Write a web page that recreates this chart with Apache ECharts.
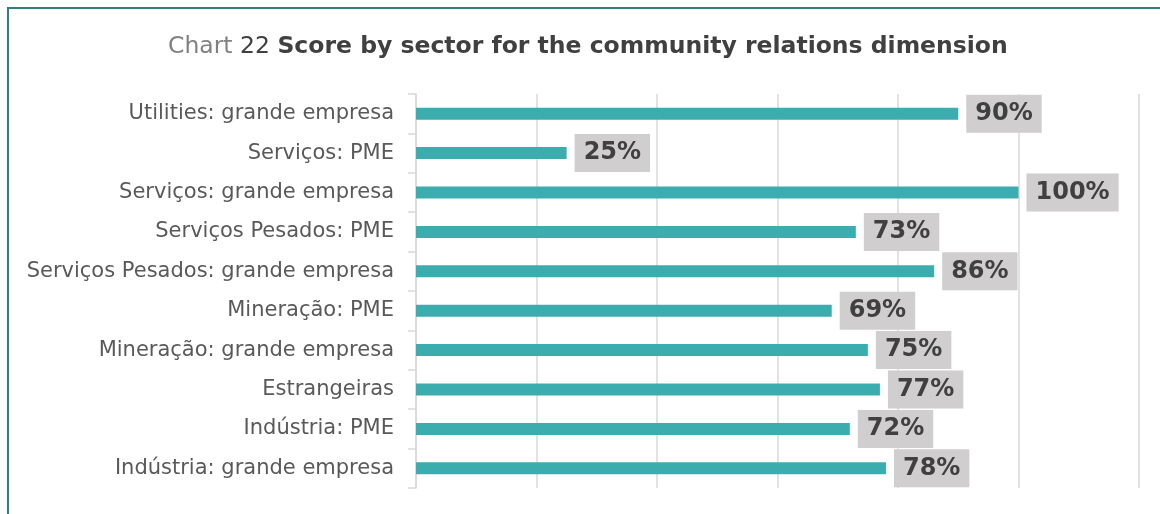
<!DOCTYPE html>
<html>
<head>
<meta charset="utf-8">
<script src="https://cdn.jsdelivr.net/npm/echarts@6/dist/echarts.min.js"></script>
<style>
  html, body { margin: 0; padding: 0; background: #ffffff; }
  #frame { position: absolute; left: 7px; top: 7px; right: 0; bottom: 0;
           border-top: 2px solid #2d7f80; border-left: 2px solid #2d7f80; }
  #chart { position: absolute; left: 0; top: 0; width: 1160px; height: 514px; }
</style>
</head>
<body>
<div id="frame"></div>
<div id="chart"></div>
<script>
// Sectors, listed top to bottom
const categories = [
  'Utilities: grande empresa',
  'Serviços: PME',
  'Serviços: grande empresa',
  'Serviços Pesados: PME',
  'Serviços Pesados: grande empresa',
  'Mineração: PME',
  'Mineração: grande empresa',
  'Estrangeiras',
  'Indústria: PME',
  'Indústria: grande empresa'
];
// Community relations score (%)
const scores = [90, 25, 100, 73, 86, 69, 75, 77, 72, 78];

const chart = echarts.init(document.getElementById('chart'));
chart.setOption({
  backgroundColor: 'transparent',
  animation: false,
  title: {
    text: '{a|Chart }{b|22 }{c|Score by sector for the community relations dimension}',
    left: 163,
    top: 30,
    textStyle: {
      fontWeight: 'normal',
      rich: {
        a: { fontFamily: 'DejaVu Sans', fontSize: 23.5, fontWeight: 'normal', color: '#808080' },
        b: { fontFamily: 'DejaVu Sans', fontSize: 23.5, fontWeight: 'normal', color: '#404040' },
        c: { fontFamily: 'DejaVu Sans', fontSize: 23.5, fontWeight: 'bold', color: '#404040' }
      }
    }
  },
  grid: { left: 416, right: 21, top: 94, bottom: 26, containLabel: false },
  xAxis: {
    type: 'value',
    min: 0,
    max: 120,
    interval: 20,
    axisLabel: { show: false },
    axisLine: { show: false },
    axisTick: { show: false },
    splitLine: { show: true, lineStyle: { color: '#d9d9d9', width: 1.5 } }
  },
  yAxis: {
    type: 'category',
    inverse: true,
    data: categories,
    axisLine: { show: true, lineStyle: { color: '#d9d9d9', width: 1.5 } },
    axisTick: { show: true, length: 8, lineStyle: { color: '#d9d9d9', width: 1.5 } },
    axisLabel: {
      margin: 22,
      fontFamily: 'DejaVu Sans',
      fontSize: 21,
      color: '#595959'
    }
  },
  series: [{
    type: 'bar',
    data: scores,
    barWidth: 12,
    itemStyle: { color: '#3cadae' },
    label: {
      show: true,
      position: 'right',
      distance: 8,
      formatter: '{c}%',
      fontFamily: 'DejaVu Sans',
      fontSize: 24,
      fontWeight: 'bold',
      color: '#404040',
      backgroundColor: '#d0cece',
      padding: [8, 9, 6, 9]
    }
  }]
});
</script>
</body>
</html>
